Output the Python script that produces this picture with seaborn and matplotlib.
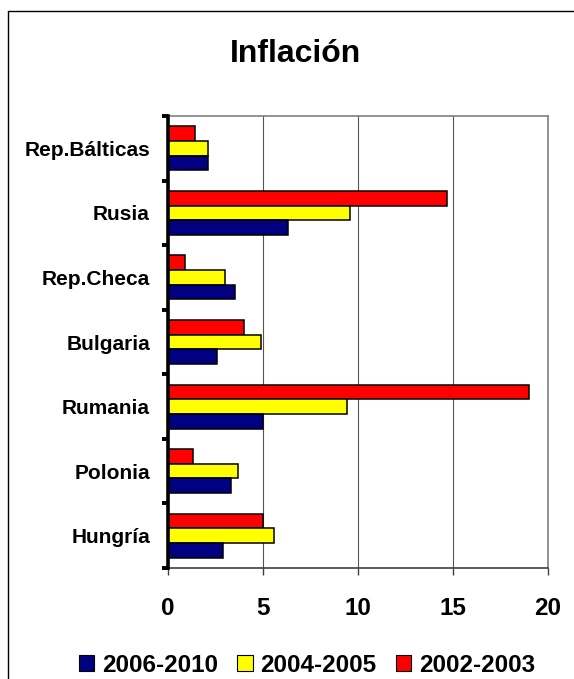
import matplotlib
matplotlib.use("Agg")
import matplotlib.pyplot as plt
from matplotlib.lines import Line2D
from matplotlib.patches import Patch
import numpy as np
import pandas as pd
import seaborn as sns

# Inflation by country and period (%)
countries = ["Rep.Bálticas", "Rusia", "Rep.Checa", "Bulgaria", "Rumania", "Polonia", "Hungría"]
periods = ["2002-2003", "2004-2005", "2006-2010"]
infl_2002_2003 = [1.4, 14.7, 0.9, 4.0, 19.0, 1.3, 5.0]
infl_2004_2005 = [2.1, 9.6, 3.0, 4.9, 9.4, 3.7, 5.6]
infl_2006_2010 = [2.1, 6.3, 3.5, 2.6, 5.0, 3.3, 2.9]
period_colors = {"2002-2003": "#FF0000", "2004-2005": "#FFFF00", "2006-2010": "#000080"}
legend_order = ["2006-2010", "2004-2005", "2002-2003"]
x_ticks = [0, 5, 10, 15, 20]

df = pd.DataFrame({
    "country": countries * 3,
    "period": [periods[0]] * 7 + [periods[1]] * 7 + [periods[2]] * 7,
    "value": infl_2002_2003 + infl_2004_2005 + infl_2006_2010,
})

sns.set_style("white")
plt.rcParams["font.family"] = ["Liberation Sans", "DejaVu Sans"]
plt.rcParams["font.weight"] = "bold"
plt.rcParams["text.color"] = "black"
plt.rcParams["xtick.color"] = "black"
plt.rcParams["ytick.color"] = "black"

W, H = 574, 679
fig = plt.figure(figsize=(W / 100, H / 100), dpi=100)
ax = fig.add_axes([168 / W, 1 - 568 / H, 380 / W, 452 / H])

sns.barplot(data=df, y="country", x="value", hue="period", order=countries,
            hue_order=periods, palette=period_colors, width=0.68, saturation=1,
            edgecolor="black", linewidth=1.1, orient="h", legend=False, ax=ax,
            errorbar=None, zorder=3)

ax.set_xlim(0, 20)
ax.set_ylim(6.5, -0.5)
ax.set_xticks(x_ticks)
ax.set_xticklabels([str(t) for t in x_ticks], fontsize=17.5, fontweight="bold", color="black")
ax.set_xlabel("")
ax.set_ylabel("")

# category labels at centres, boundary ticks as minor ticks
ax.set_yticks(np.arange(len(countries)))
ax.set_yticklabels(countries, fontsize=15, fontweight="bold", color="black")
ax.set_yticks(np.arange(-0.5, len(countries)), minor=True)
ax.tick_params(axis="y", which="major", left=True, length=0, pad=13)
ax.tick_params(axis="y", which="minor", left=True, length=4, width=2.8,
               color="black", direction="out")
ax.tick_params(axis="x", which="major", bottom=True, length=5, width=1,
               color="#404040", direction="out", pad=16)

ax.grid(axis="x", color="#555555", linewidth=0.8, zorder=0)
ax.grid(axis="y", visible=False)
ax.set_axisbelow(True)

ax.spines["left"].set_color("black")
ax.spines["left"].set_linewidth(2.6)
ax.spines["left"].set_zorder(5)
ax.spines["bottom"].set_color("#404040")
ax.spines["bottom"].set_linewidth(1.2)
for s in ("top", "right"):
    ax.spines[s].set_color("#808080")
    ax.spines[s].set_linewidth(1.2)

fig.text(296 / W, 1 - 54 / H, "Inflación", fontsize=23, fontweight="bold",
         ha="center", va="center", color="black")

handles = [Patch(facecolor=period_colors[p], edgecolor="black", linewidth=0.8) for p in legend_order]
fig.legend(handles, legend_order, loc="center", bbox_to_anchor=(307 / W, 1 - 665 / H),
           ncol=3, frameon=False, prop={"size": 17.5, "weight": "bold"},
           handlelength=0.62, handleheight=0.62, handletextpad=0.32,
           columnspacing=0.8, borderpad=0, borderaxespad=0)

# outer frame (left and top edges)
fig.add_artist(Line2D([8 / W, 8 / W], [0, 1 - 11 / H], transform=fig.transFigure,
                      color="black", linewidth=1))
fig.add_artist(Line2D([8 / W, 1], [1 - 11 / H, 1 - 11 / H], transform=fig.transFigure,
                      color="black", linewidth=1))

fig.savefig("out.png", dpi=100)
